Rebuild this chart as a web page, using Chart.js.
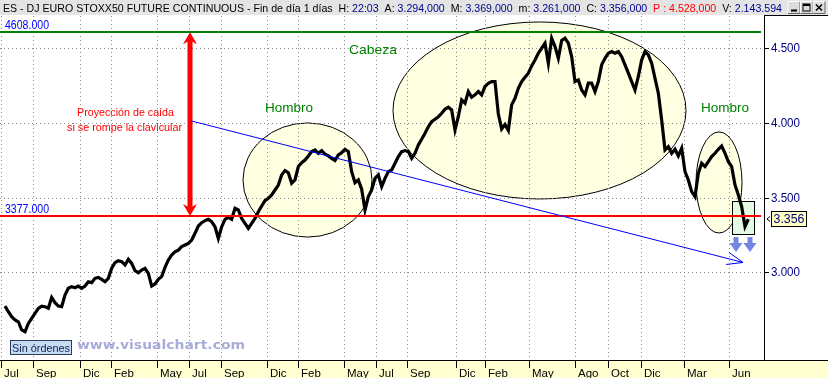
<!DOCTYPE html>
<html><head><meta charset="utf-8">
<script src="https://cdn.jsdelivr.net/npm/chart.js@4.4.0/dist/chart.umd.min.js"></script>
<style>html,body{margin:0;padding:0;background:#fff;overflow:hidden}canvas{display:block}</style>
</head><body>
<canvas id="c" width="828" height="378" style="width:828px;height:378px"></canvas>
<script>
// ---- data (weekly-ish closes) ----
const closes = [
2774,2736,2703,2681,2669,2614,2602,2658,2692,2725,
2759,2774,2770,2759,2832,2797,2774,2770,2848,2893,
2904,2897,2908,2893,2908,2937,2931,2960,2966,2953,
2937,2960,3027,3064,3078,3071,3049,3087,3060,3011,
2997,3015,3027,2993,2908,2922,2953,2971,3033,3082,
3116,3138,3149,3172,3183,3194,3216,3261,3310,3332,
3346,3355,3339,3305,3227,3305,3355,3368,3355,3428,
3417,3361,3328,3294,3328,3361,3406,3444,3480,3495,
3518,3551,3584,
3652,3681,3667,3596,3618,3708,3734,3752,3779,3808,
3819,3797,3815,3792,3779,3763,3748,3786,3801,3824,
3808,3674,3600,3618,3556,3417,3507,3551,3629,3652,
3574,3629,3674,3685,3730,3775,3808,3815,3808,3763,
3797,3853,3891,3931,3975,4009,4025,4042,
4065,4092,4105,4087,3953,4043,4154,4132,4210,4172,
4188,4210,4188,4244,4266,4277,4277,4060,3960,3990,
3950,4121,4165,4232,4277,4306,4333,4382,4422,4467,
4500,4534,4400,4567,4511,4433,4552,4567,4534,4444,
4277,4288,4221,4188,4266,4266,4210,4277,4389,4433,
4467,4478,4467,4478,4444,4389,4333,4277,4221,4311,
4422,4478,4456,4400,4299,4199,4020,
3819,3841,3797,3824,3779,3830,3674,3618,3540,3507,
3663,3730,3708,3741,3775,3797,3824,3846,3797,3741,
3708,3585,3518,3440,3306,3356
];
const monthLabels = ['Jul','Sep','Dic','Feb','May','Jul','Sep','Dic','Feb','May','Jul','Sep','Dic','Feb','May','Ago','Oct','Dic','Mar','Jun'];
const monthPos = [-1.2,8.4,22.5,31.8,45.6,55.2,64.8,78.6,87.9,101.7,111.3,120.6,135.3,144.0,157.2,171.0,180.9,190.8,203.7,217.2];
const yTicks = [3000,3500,4000,4500];
const yTickLabels = ['3.000','3.500','4.000','4.500'];
const headLevel = 4608, neckLevel = 3377, lastPrice = 3356;
const headLabel = '4608.000', neckLabel = '3377.000', lastLabel = '3.356';
const projX = 55.5;
const trendLine = [[56.0,4013],[221.4,3066]];
const ellipses = [[71.4,110.1,3236,4000],[116.4,204.3,3491,4676],[207.3,221.1,3263,3940]];
const greenBox = [218.1,224.7,3256,3477];
const downArrows = [219.3,223.5];
const arrowTop = 3236;

const BLUE='#000090', NAVY='#000080';
const F='"Liberation Sans", Arial, sans-serif';

function fitText(ctx, t, x, y, w){
  const m = ctx.measureText(t).width;
  ctx.save(); ctx.translate(x,y); ctx.scale(w/m,1); ctx.fillText(t,0,0); ctx.restore();
}
function dotted(ctx,x1,y1,x2,y2){
  ctx.save(); ctx.strokeStyle='#8a8a8a'; ctx.lineWidth=1; ctx.setLineDash([1,3]);
  ctx.beginPath(); ctx.moveTo(x1,y1); ctx.lineTo(x2,y2); ctx.stroke(); ctx.restore();
}

const deco = {
  id:'deco',
  beforeDatasetsDraw(chart){
    const ctx=chart.ctx, xs=chart.scales.x, ys=chart.scales.y, a=chart.chartArea;
    const X=v=>xs.getPixelForValue(v), Y=v=>ys.getPixelForValue(v);
    ctx.save();
    ctx.fillStyle='#fff'; ctx.fillRect(0,0,828,378);
    ellipses.forEach(e=>{
      const x0=X(e[0]),x1=X(e[1]),y0=Y(e[3]),y1=Y(e[2]);
      ctx.beginPath(); ctx.ellipse((x0+x1)/2,(y0+y1)/2,(x1-x0)/2,(y1-y0)/2,0,0,Math.PI*2);
      ctx.fillStyle='#ffffe1'; ctx.fill(); ctx.strokeStyle='#000'; ctx.lineWidth=1; ctx.stroke();
    });
    {
      const x0=Math.round(X(greenBox[0]))+0.5,x1=Math.round(X(greenBox[1]))+0.5,y0=Math.round(Y(greenBox[3]))+0.5,y1=Math.round(Y(greenBox[2]))+0.5;
      ctx.fillStyle='#e2fbe2'; ctx.fillRect(x0,y0,x1-x0,y1-y0);
      ctx.strokeStyle='#000'; ctx.lineWidth=1; ctx.strokeRect(x0,y0,x1-x0,y1-y0);
    }
    yTicks.forEach(v=>{const y=Math.round(Y(v))+0.5; dotted(ctx,a.left,y,a.right,y);});
    monthPos.forEach(p=>{const x=Math.round(X(p))+0.5; dotted(ctx,x,a.top,x,a.bottom);});
    ctx.restore();
  },
  afterDatasetsDraw(chart){
    const ctx=chart.ctx, xs=chart.scales.x, ys=chart.scales.y, a=chart.chartArea;
    const X=v=>xs.getPixelForValue(v), Y=v=>ys.getPixelForValue(v);
    ctx.save();
    const yh=Y(headLevel), yn=Y(neckLevel);
    ctx.lineWidth=2;
    ctx.strokeStyle='#008000'; ctx.beginPath(); ctx.moveTo(0,Math.round(yh)); ctx.lineTo(761,Math.round(yh)); ctx.stroke();
    ctx.strokeStyle='#ff0000'; ctx.beginPath(); ctx.moveTo(0,Math.round(yn)); ctx.lineTo(761,Math.round(yn)); ctx.stroke();
    ctx.font='12px '+F; ctx.fillStyle='#0000ff'; ctx.textBaseline='alphabetic';
    fitText(ctx, headLabel, 5, Math.round(yh)-3.5, 44);
    fitText(ctx, neckLabel, 5, Math.round(yn)-3.5, 44);
    const ax=X(projX);
    ctx.fillStyle='#ff0000';
    ctx.fillRect(ax-2.5, yh+9, 5, yn-yh-18);
    ctx.beginPath(); ctx.moveTo(ax,yh); ctx.lineTo(ax+7,yh+12); ctx.lineTo(ax+2.5,yh+9.5); ctx.lineTo(ax-2.5,yh+9.5); ctx.lineTo(ax-7,yh+12); ctx.closePath(); ctx.fill();
    ctx.beginPath(); ctx.moveTo(ax,yn); ctx.lineTo(ax+7,yn-12); ctx.lineTo(ax+2.5,yn-9.5); ctx.lineTo(ax-2.5,yn-9.5); ctx.lineTo(ax-7,yn-12); ctx.closePath(); ctx.fill();
    ctx.font='11px '+F; ctx.textAlign='left';
    fitText(ctx,'Proyección de caída',77,116,97);
    fitText(ctx,'si se rompe la clavicular',67,131,115);
    const bx0=X(trendLine[0][0]), by0=Y(trendLine[0][1]), bx1=X(trendLine[1][0]), by1=Y(trendLine[1][1]);
    ctx.strokeStyle='#0000ff'; ctx.lineWidth=1;
    ctx.beginPath(); ctx.moveTo(bx0,by0); ctx.lineTo(bx1,by1); ctx.stroke();
    const ang=Math.atan2(by0-by1,bx0-bx1);
    [-0.37,0.37].forEach(d=>{ctx.beginPath(); ctx.moveTo(bx1,by1); ctx.lineTo(bx1+17*Math.cos(ang+d), by1+17*Math.sin(ang+d)); ctx.stroke();});
    ctx.fillStyle='#7386e2';
    const yt=Y(arrowTop);
    downArrows.forEach(p=>{
      const cx=X(p);
      ctx.fillRect(cx-2.5,yt,5,7);
      ctx.beginPath(); ctx.moveTo(cx-6.5,yt+6); ctx.lineTo(cx+6.5,yt+6); ctx.lineTo(cx,yt+15); ctx.closePath(); ctx.fill();
    });
    ctx.fillStyle='#008000'; ctx.font='13.5px '+F;
    fitText(ctx,'Hombro',265,111.5,48);
    fitText(ctx,'Cabeza',349,54,48);
    fitText(ctx,'Hombro',701,111.5,48);
    ctx.font='bold 13px "DejaVu Sans", sans-serif'; ctx.fillStyle='#a9acd8';
    fitText(ctx,'www.visualchart.com',77,349,168);
    ctx.fillStyle='#c6dcf2'; ctx.fillRect(10.5,340.5,61,14);
    ctx.strokeStyle='#283c64'; ctx.lineWidth=1; ctx.strokeRect(10.5,340.5,61,14);
    ctx.fillStyle='#102050'; ctx.font='11px '+F;
    fitText(ctx,'Sin órdenes',12,352,58);
    ctx.fillStyle='#fff'; ctx.fillRect(a.right,15,828-a.right,a.bottom-15);
    ctx.strokeStyle='#000'; ctx.lineWidth=1;
    ctx.beginPath(); ctx.moveTo(a.right+0.5,15); ctx.lineTo(a.right+0.5,a.bottom); ctx.moveTo(a.right,15.5); ctx.lineTo(828,15.5); ctx.stroke();
    ctx.font='12px '+F; ctx.fillStyle=NAVY; ctx.textBaseline='middle';
    yTicks.forEach((v,i)=>{
      const y=Math.round(Y(v))+0.5;
      ctx.beginPath(); ctx.moveTo(a.right,y); ctx.lineTo(a.right+5,y); ctx.stroke();
      fitText(ctx,yTickLabels[i],a.right+7,y+0.5,29);
    });
    const yl=Math.round(Y(lastPrice));
    ctx.fillStyle='#ffffc4'; ctx.fillRect(771.5,yl-7.5,35,15);
    ctx.strokeRect(771.5,yl-7.5,35,15);
    ctx.fillStyle=NAVY; fitText(ctx,lastLabel,773.5,yl+0.5,31);
    ctx.beginPath(); ctx.moveTo(770,yl-2.5); ctx.lineTo(767,yl); ctx.lineTo(770,yl+2.5); ctx.stroke();
    ctx.fillStyle='#ffffd2'; ctx.fillRect(0,a.bottom,828,378-a.bottom);
    ctx.beginPath(); ctx.moveTo(0,a.bottom+0.5); ctx.lineTo(828,a.bottom+0.5); ctx.stroke();
    ctx.textBaseline='alphabetic'; ctx.fillStyle='#000'; ctx.font='11.5px '+F;
    monthPos.forEach((p,i)=>{
      const x=Math.round(X(p))+0.5;
      ctx.beginPath(); ctx.moveTo(x,a.bottom+1); ctx.lineTo(x,a.bottom+8); ctx.stroke();
      ctx.fillText(monthLabels[i], x+2.5, 377);
    });
    ctx.fillStyle='#e4e4e4'; ctx.fillRect(0,0,828,15);
    const parts=[['ES - DJ EURO STOXX50 FUTURE CONTINUOUS - Fin de día 1 días  H: ','#000'],['22:03',BLUE],['  A: ','#000'],['3.294,000',BLUE],['  M: ','#000'],['3.369,000',BLUE],['  m: ','#000'],['3.261,000',BLUE],['  C: ','#000'],['3.356,000',BLUE],['  P : 4.528,000','#ff0000'],['  V: ','#000'],['2.143.594',BLUE]];
    ctx.font='11px '+F;
    let tw=0; parts.forEach(p=>tw+=ctx.measureText(p[0]).width);
    ctx.save(); ctx.translate(3,11.5); ctx.scale(779/tw,1);
    let cx=0; parts.forEach(p=>{ctx.fillStyle=p[1]; ctx.fillText(p[0],cx,0); cx+=ctx.measureText(p[0]).width;});
    ctx.restore();
    [[788,'min'],[800.5,'max'],[813,'close']].forEach(b=>{
      const x=b[0], y=1.5, w=12, h=12;
      ctx.fillStyle='#dcdcdc'; ctx.fillRect(x,y,w,h);
      ctx.strokeStyle='#fff'; ctx.beginPath(); ctx.moveTo(x,y+h); ctx.lineTo(x,y); ctx.lineTo(x+w,y); ctx.stroke();
      ctx.strokeStyle='#666'; ctx.beginPath(); ctx.moveTo(x+w,y); ctx.lineTo(x+w,y+h); ctx.lineTo(x,y+h); ctx.stroke();
      ctx.strokeStyle='#000'; ctx.fillStyle='#000';
      if(b[1]==='min'){ctx.fillRect(x+3,y+8,6,2);}
      else if(b[1]==='max'){ctx.strokeRect(x+2.5,y+2.5,7,7); ctx.fillRect(x+2.5,y+2.5,7,2);}
      else {ctx.lineWidth=1.5; ctx.beginPath(); ctx.moveTo(x+3,y+3); ctx.lineTo(x+9,y+9); ctx.moveTo(x+9,y+3); ctx.lineTo(x+3,y+9); ctx.stroke(); ctx.lineWidth=1;}
    });
    ctx.restore();
  }
};

new Chart(document.getElementById('c'),{
  type:'line',
  data:{datasets:[{data:closes.map((v,i)=>({x:i,y:v})),borderColor:'#000',borderWidth:3.2,pointRadius:0,tension:0,fill:false,borderJoinStyle:'miter'}]},
  options:{
    responsive:false, animation:false, devicePixelRatio:1,
    layout:{padding:{left:0,right:64,top:16,bottom:18}},
    plugins:{legend:{display:false},tooltip:{enabled:false}},
    scales:{
      x:{type:'linear',min:-1.5,max:227.7,display:false},
      y:{type:'linear',min:2413,max:4716,display:false}
    }
  },
  plugins:[deco]
});
</script>
</body></html>
